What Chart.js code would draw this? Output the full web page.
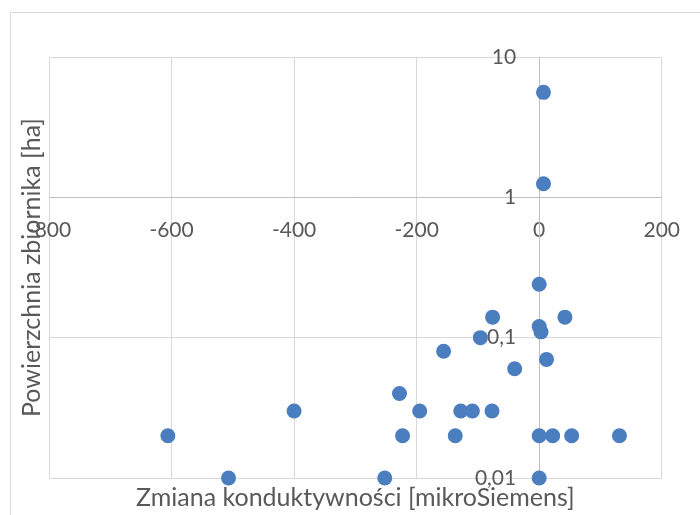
<!DOCTYPE html>
<html>
<head>
<meta charset="utf-8">
<script src="https://cdn.jsdelivr.net/npm/chart.js@4"></script>
<style>
  html, body { margin: 0; padding: 0; background: #fff; }
  #wrap { width: 700px; height: 515px; }
</style>
</head>
<body>
<div id="wrap"><canvas id="scatter"></canvas></div>
<script>
// -- data --
const conductivityChange = [7, 7, -606, -507, -400, 0, -76, 42, 0, 3, -96, -156, 12, -40,
  -228, -195, -128, -109, -77, -223, -137, 0, 22, 53, 131, -252, 0];
const pondArea = [5.6, 1.25, 0.02, 0.01, 0.03, 0.24, 0.14, 0.14, 0.12, 0.11, 0.1, 0.08, 0.07, 0.06,
  0.04, 0.03, 0.03, 0.03, 0.03, 0.02, 0.02, 0.02, 0.02, 0.02, 0.02, 0.01, 0.01];

const xTicks = [-800, -600, -400, -200, 0, 200];
const yTicks = [0.01, 0.1, 1, 10];
const xTitle = 'Zmiana konduktywności [mikroSiemens]';
const yTitle = 'Powierzchnia zbiornika [ha]';

const textCol = '#595959';
const gridCol = '#d9d9d9';
const axisCol = '#bfbfbf';
const dotCol  = '#4a7ebf';
const font    = { family: 'Lato, sans-serif', size: 21 };
const titleSize = 25;

const yLabel = (v) => String(v).replace('.', ',');

// Excel-style extras: outer frame, y tick labels offset from the crossing axis, axis titles at the edge
const excelBits = {
  id: 'excelBits',
  beforeDraw(chart) {
    const ctx = chart.ctx;
    ctx.save();
    ctx.strokeStyle = gridCol;
    ctx.lineWidth = 1;
    ctx.strokeRect(10.5, 12.5, 720, 540);
    ctx.restore();
  },
  beforeDatasetsDraw(chart) {
    const ctx = chart.ctx;
    const xs = chart.scales.x, ys = chart.scales.y;
    const x0 = xs.getPixelForValue(0) - 23;
    ctx.save();
    ctx.fillStyle = textCol;
    ctx.font = `${font.size}px ${font.family}`;
    ctx.textAlign = 'right';
    ctx.textBaseline = 'middle';
    yTicks.forEach(v => ctx.fillText(yLabel(v), x0, ys.getPixelForValue(v)));
    ctx.restore();
  },
  afterDraw(chart) {
    const ctx = chart.ctx;
    const a = chart.chartArea;
    ctx.save();
    ctx.fillStyle = textCol;
    ctx.font = `${titleSize}px ${font.family}`;
    ctx.textAlign = 'center';
    ctx.textBaseline = 'middle';
    ctx.fillText(xTitle, (a.left + a.right) / 2, 498);
    ctx.translate(32, (a.top + a.bottom) / 2);
    ctx.rotate(-Math.PI / 2);
    ctx.fillText(yTitle, 0, 0);
    ctx.restore();
  }
};

new Chart(document.getElementById('scatter'), {
  type: 'scatter',
  data: {
    datasets: [{
      data: conductivityChange.map((x, i) => ({ x, y: pondArea[i] })),
      backgroundColor: dotCol,
      borderColor: dotCol,
      borderWidth: 0,
      pointRadius: 7.5,
      pointHoverRadius: 7.5,
      clip: false,
    }],
  },
  plugins: [excelBits],
  options: {
    responsive: true,
    maintainAspectRatio: false,
    animation: false,
    layout: { padding: { left: 49, top: 57, right: 37, bottom: 37 } },
    plugins: { legend: { display: false }, tooltip: { enabled: false } },
    scales: {
      x: {
        type: 'linear',
        position: { y: 1 },
        min: -800,
        max: 200,
        afterBuildTicks: (s) => { s.ticks = xTicks.map(v => ({ value: v })); },
        ticks: {
          autoSkip: false,
          maxRotation: 0,
          color: textCol,
          font: font,
          padding: 20,
          callback: (v) => String(v),
        },
        grid: { color: gridCol, drawTicks: false },
        border: { color: axisCol },
      },
      y: {
        type: 'logarithmic',
        position: { x: 0 },
        min: 0.01,
        max: 10,
        afterBuildTicks: (s) => { s.ticks = yTicks.map(v => ({ value: v })); },
        ticks: { display: false },
        grid: { color: gridCol, drawTicks: false },
        border: { color: axisCol },
      },
    },
  },
});
</script>
</body>
</html>
